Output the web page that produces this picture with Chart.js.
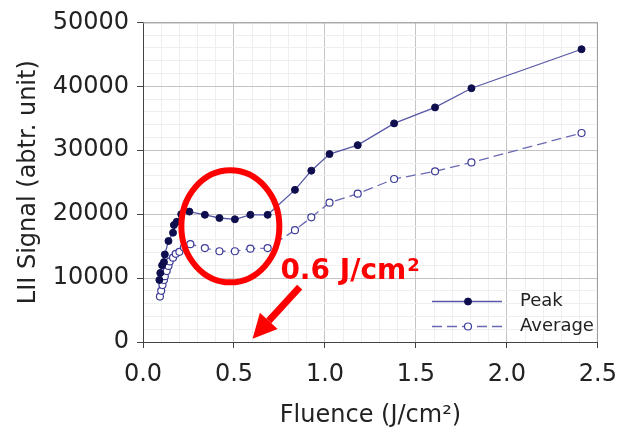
<!DOCTYPE html>
<html>
<head>
<meta charset="utf-8">
<title>LII signal vs fluence</title>
<script src="https://cdn.jsdelivr.net/npm/chart.js@4.4.0/dist/chart.umd.min.js"></script>
<style>
  html, body { margin: 0; padding: 0; background: #fff; }
</style>
</head>
<body>
<canvas id="lii" width="629" height="434"></canvas>
<script>
'use strict';

// values
var peakX = [0.09, 0.095, 0.105, 0.115, 0.12, 0.14, 0.165, 0.17, 0.185, 0.21, 0.255,
  0.34, 0.42, 0.505, 0.59, 0.685, 0.835, 0.925, 1.025, 1.18, 1.38, 1.605, 1.805, 2.41];
var peakY = [9700, 10800, 12000, 12500, 13700, 15800, 17100, 18300, 18800, 20000, 20400,
  19900, 19400, 19200, 19900, 19900, 23800, 26800, 29400, 30800, 34200, 36700, 39700, 45800];

var avgX = [0.093, 0.1, 0.107, 0.115, 0.12, 0.13, 0.14, 0.147, 0.165, 0.18, 0.2, 0.225, 0.26,
  0.34, 0.42, 0.505, 0.59, 0.685, 0.835, 0.925, 1.025, 1.18, 1.38, 1.605, 1.805, 2.41];
var avgY = [7100, 8000, 8900, 9700, 10300, 11100, 11900, 12600, 13200, 13800, 14100, 14800, 15300,
  14700, 14200, 14200, 14600, 14700, 17500, 19500, 21800, 23200, 25500, 26700, 28100, 32700];

var seriesNames = ['Peak', 'Average'];
var xTitle = 'Fluence (J/cm\u00b2)';
var yTitle = 'LII Signal (abtr. unit)';
var noteText = '0.6 J/cm';
var noteSup = '2';

var FONT = 'DejaVu Sans';

function toPoints(xs, ys) {
  var out = [];
  for (var i = 0; i < xs.length; i++) {
    out.push({ x: xs[i], y: ys[i] });
  }
  return out;
}

function isMajor(v, step) {
  var r = v / step;
  return Math.abs(r - Math.round(r)) < 1e-6;
}

// red circle, text and arrow + legend + top/right frame
var extras = {
  id: 'extras',
  afterDatasetsDraw: function(chart) {
    var ctx = chart.ctx;
    var xs = chart.scales.x;
    var ys = chart.scales.y;
    var a = chart.chartArea;

    ctx.save();
    // frame on top and right
    ctx.strokeStyle = '#9a9a9a';
    ctx.lineWidth = 1;
    ctx.beginPath();
    ctx.moveTo(a.left, a.top + 0.5);
    ctx.lineTo(a.right - 0.5, a.top + 0.5);
    ctx.lineTo(a.right - 0.5, a.bottom);
    ctx.stroke();

    // circle round the plateau
    ctx.strokeStyle = '#ff0000';
    ctx.lineWidth = 6;
    ctx.beginPath();
    ctx.ellipse(xs.getPixelForValue(0.48), ys.getPixelForValue(18100), 49, 56, 0, 0, Math.PI * 2);
    ctx.stroke();

    // note text
    ctx.fillStyle = '#ff0000';
    ctx.font = 'bold 28px "' + FONT + '"';
    ctx.textBaseline = 'alphabetic';
    ctx.textAlign = 'left';
    var tx = xs.getPixelForValue(0.755);
    var ty = ys.getPixelForValue(9800);
    ctx.fillText(noteText, tx, ty);
    var w = ctx.measureText(noteText).width;
    ctx.font = 'bold 18px "' + FONT + '"';
    ctx.fillText(noteSup, tx + w + 1, ty - 8);

    // arrow to 0.6
    var x1 = xs.getPixelForValue(0.861), y1 = ys.getPixelForValue(8570);
    var x2 = xs.getPixelForValue(0.602), y2 = ys.getPixelForValue(520);
    var ang = Math.atan2(y2 - y1, x2 - x1);
    var headLen = 24, headW = 12;
    var bx = x2 - headLen * Math.cos(ang), by = y2 - headLen * Math.sin(ang);
    ctx.strokeStyle = '#ff0000';
    ctx.lineWidth = 7;
    ctx.beginPath();
    ctx.moveTo(x1, y1);
    ctx.lineTo(bx, by);
    ctx.stroke();
    ctx.beginPath();
    ctx.moveTo(x2, y2);
    ctx.lineTo(bx + headW * Math.sin(ang), by - headW * Math.cos(ang));
    ctx.lineTo(bx - headW * Math.sin(ang), by + headW * Math.cos(ang));
    ctx.closePath();
    ctx.fill();

    // legend
    var lx0 = 432, lx1 = 502, mx = 468;
    var rows = [301.5, 326.5];
    ctx.font = '18px "' + FONT + '"';
    ctx.textBaseline = 'middle';
    for (var i = 0; i < 2; i++) {
      var ds = chart.data.datasets[i];
      ctx.strokeStyle = ds.borderColor;
      ctx.lineWidth = ds.borderWidth;
      ctx.setLineDash(ds.borderDash || []);
      ctx.beginPath();
      ctx.moveTo(lx0, rows[i]);
      ctx.lineTo(lx1, rows[i]);
      ctx.stroke();
      ctx.setLineDash([]);
      ctx.beginPath();
      ctx.arc(mx, rows[i], ds.pointRadius, 0, Math.PI * 2);
      ctx.fillStyle = ds.pointBackgroundColor;
      ctx.fill();
      ctx.strokeStyle = ds.pointBorderColor;
      ctx.lineWidth = ds.pointBorderWidth;
      ctx.stroke();
      ctx.fillStyle = '#222';
      ctx.fillText(seriesNames[i], 520, rows[i]);
    }
    ctx.restore();
  }
};

var chart = new Chart(document.getElementById('lii'), {
  type: 'line',
  data: {
    datasets: [{
      label: seriesNames[0],
      data: toPoints(peakX, peakY),
      borderColor: '#5858a8',
      borderWidth: 1.3,
      pointRadius: 3.5,
      pointBackgroundColor: '#0e0e4e',
      pointBorderColor: '#0e0e4e',
      pointBorderWidth: 1,
      tension: 0
    }, {
      label: seriesNames[1],
      data: toPoints(avgX, avgY),
      borderColor: '#6a6ab4',
      borderWidth: 1.3,
      borderDash: [10, 5],
      pointRadius: 3.5,
      pointBackgroundColor: '#ffffff',
      pointBorderColor: '#3e3e98',
      pointBorderWidth: 1.2,
      tension: 0
    }]
  },
  options: {
    responsive: false,
    animation: false,
    layout: { padding: { top: 17, right: 20, bottom: 0, left: 0 } },
    plugins: {
      legend: { display: false },
      tooltip: { enabled: false }
    },
    scales: {
      x: {
        type: 'linear',
        min: 0,
        max: 2.5,
        afterFit: function(s) { s.height = 92; },
        ticks: {
          stepSize: 0.1,
          autoSkip: false,
          maxRotation: 0,
          padding: 12,
          color: '#222',
          font: { family: FONT, size: 24 },
          callback: function(v) { return isMajor(v, 0.5) ? v.toFixed(1) : ''; }
        },
        grid: {
          tickLength: 6,
          color: function(c) { return isMajor(c.tick.value, 0.5) ? '#c4c4c4' : '#efefef'; },
          tickColor: function(c) { return isMajor(c.tick.value, 0.5) ? '#444' : 'rgba(0,0,0,0)'; }
        },
        border: { color: '#444', width: 1 },
        title: {
          display: true,
          text: xTitle,
          color: '#222',
          font: { family: FONT, size: 24 },
          padding: { top: 0, bottom: 4 }
        }
      },
      y: {
        min: 0,
        max: 50000,
        afterFit: function(s) { s.width = 143; },
        ticks: {
          stepSize: 2000,
          autoSkip: false,
          padding: 8,
          color: '#222',
          font: { family: FONT, size: 24 },
          callback: function(v) { return isMajor(v, 10000) ? String(v) : ''; }
        },
        grid: {
          tickLength: 6,
          color: function(c) { return isMajor(c.tick.value, 10000) ? '#c4c4c4' : '#efefef'; },
          tickColor: function(c) { return isMajor(c.tick.value, 10000) ? '#444' : 'rgba(0,0,0,0)'; }
        },
        border: { color: '#444', width: 1 },
        title: {
          display: true,
          text: yTitle,
          color: '#222',
          font: { family: FONT, size: 24 },
          padding: { top: 14, bottom: 0 }
        }
      }
    }
  },
  plugins: [extras]
});
</script>
</body>
</html>
